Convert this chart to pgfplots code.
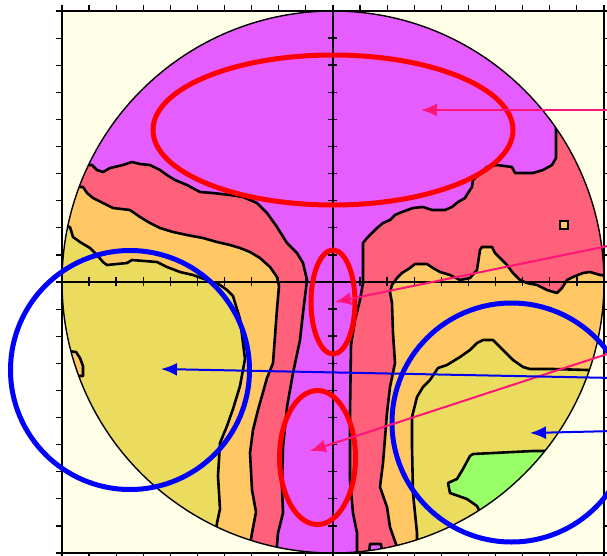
\documentclass[border=0pt]{standalone}
\usepackage{pgfplots}
\pgfplotsset{compat=1.18}
\usetikzlibrary{arrows.meta}
\definecolor{cream}{RGB}{255,255,232}
\definecolor{magC}{RGB}{229,92,255}
\definecolor{redC}{RGB}{255,96,122}
\definecolor{oraC}{RGB}{255,200,100}
\definecolor{khaC}{RGB}{235,220,96}
\definecolor{grnC}{RGB}{153,255,102}
\definecolor{arrP}{RGB}{255,20,120}
\definecolor{blueA}{RGB}{0,0,240}
\begin{document}
\begin{tikzpicture}
\pgfplotsset{geom/.style={at={(31pt,-5.5pt)}, anchor=north west, scale only axis, width=271pt, height=271pt},
  cont/.style={draw=black, line width=1.3pt, line join=round}}
% ---------- data axis (pixel coordinates) ----------
\begin{axis}[geom, xmin=62, xmax=604, ymin=11, ymax=553, y dir=reverse,
  axis background/.style={fill=cream}, axis on top,
  xtick={62,89.1,...,604.1}, ytick={11,38.1,...,553.1},
  xticklabels={}, yticklabels={}, tick align=outside, major tick length=3pt,
  tick style={black, line width=0.6pt}, axis line style={black, line width=0.9pt}]
\begin{scope}
\clip (axis cs:333,282) circle[radius=271];
% yellow base
\addplot[fill=khaC, draw=none] coordinates {(40,0) (620,0) (620,570) (40,570)} -- cycle;
% orange
\addplot[cont, fill=oraC] coordinates {(40,0) (40,227) (70,227) (73,237) (80,242) (90,248) (97,255) (103,262) (107,265) (127,263) (132,260) (157,262) (167,267) (180,272) (193,275) (207,280) (220,285) (227,290) (233,296) (240,319) (245,359) (240,386) (233,409) (227,426) (220,443) (218,476) (220,509) (217,523) (214,545) (214,570) (417,570) (417,545) (417,533) (413,493) (412,447) (412,417) (417,397) (423,387) (430,380) (438,368) (447,365) (460,357) (470,350) (477,343) (483,340) (493,340) (503,350) (513,360) (523,367) (530,369) (553,369) (587,370) (620,371) (620,0)} -- cycle;
% small orange sliver on the left edge
\addplot[cont, fill=oraC] coordinates {(60,350) (76,352) (80,358) (83,366) (83,376) (60,376)} -- cycle;
% red
\addplot[cont, fill=redC] coordinates {(40,0) (40,187) (83,187) (87,193) (93,198) (103,203) (113,208) (130,210) (140,217) (150,223) (160,228) (173,232) (187,235) (203,238) (217,242) (230,245) (240,248) (250,252) (260,258) (270,267) (277,277) (279,286) (277,309) (273,363) (267,378) (258,410) (253,430) (250,453) (252,490) (256,512) (252,533) (250,545) (250,570) (397,570) (397,547) (390,527) (387,507) (380,487) (383,463) (387,413) (390,387) (395,363) (393,333) (392,303) (390,292) (392,285) (397,278) (402,273) (410,268) (415,264) (427,264) (433,268) (440,272) (450,275) (460,280) (470,278) (477,270) (480,250) (482,247) (492,247) (495,253) (500,258) (507,265) (513,273) (520,280) (527,283) (537,285) (547,290) (557,293) (562,288) (567,280) (573,277) (583,273) (590,272) (600,275) (620,277) (620,0)} -- cycle;
% magenta
\addplot[cont, fill=magC] coordinates {(40,0) (40,165) (92,165) (97,170) (103,172) (110,168) (123,165) (132,162) (140,164) (150,165) (160,170) (167,175) (175,180) (187,185) (200,192) (213,193) (230,195) (243,197) (257,203) (267,213) (277,227) (287,243) (297,253) (303,263) (307,280) (303,313) (300,340) (293,373) (287,407) (283,447) (282,487) (283,513) (278,533) (277,545) (277,570) (357,570) (357,545) (357,533) (353,513) (350,480) (350,413) (351,345) (355,320) (360,300) (363,283) (363,243) (367,238) (372,233) (377,228) (383,223) (390,220) (395,215) (402,212) (413,208) (423,207) (432,210) (445,210) (452,207) (458,202) (465,198) (468,193) (472,187) (473,180) (478,175) (487,167) (497,165) (512,167) (515,173) (533,173) (543,170) (552,165) (556,158) (556,100) (556,0)} -- cycle;
% small magenta blob at the bottom
\addplot[cont, fill=magC] coordinates {(368,560) (370,544) (381,544) (383,560)} -- cycle;
% green
\addplot[cont, fill=grnC] coordinates {(470,456) (473,454) (533,451) (560,451) (560,520) (480,512) (477,506) (467,499) (450,493) (448,483) (457,479) (463,469)} -- cycle;
% tiny square
\addplot[draw=black, line width=1.2pt, fill=oraC] coordinates {(560,221) (568,221) (568,229) (560,229)} -- cycle;
\end{scope}
\draw[black, line width=0.7pt] (axis cs:333,282) circle[radius=271];
\end{axis}
% ---------- central cross ----------
\begin{axis}[geom, xmin=-1, xmax=1, ymin=-1, ymax=1, axis lines=middle,
  axis line style={-, black, line width=0.8pt},
  every inner x axis line/.append style={-}, every inner y axis line/.append style={-},
  xtick={-0.9,-0.8,...,0.95}, ytick={-0.9,-0.8,...,0.95},
  xticklabels={}, yticklabels={}, tick align=center, major tick length=4.5pt,
  tick style={black, line width=0.7pt}]
\end{axis}
% ---------- annotations (pixel coordinates) ----------
\begin{axis}[geom, xmin=62, xmax=604, ymin=11, ymax=553, y dir=reverse,
  axis lines=none, clip=false]
\draw[red, line width=2.5pt] (axis cs:333,130) ellipse[x radius=180, y radius=75];
\draw[red, line width=2.5pt] (axis cs:333,302) ellipse[x radius=22, y radius=52];
\draw[red, line width=2.5pt] (axis cs:317.5,457.5) ellipse[x radius=38, y radius=67];
\draw[blue, line width=2.5pt] (axis cs:130,370) circle[radius=119.5];
\draw[blue, line width=2.5pt] (axis cs:511.5,422.5) circle[radius=119.5];
\draw[arrP, line width=1pt, -{Latex[length=8pt,width=6.5pt]}] (axis cs:615,110) -- (axis cs:421,110);
\draw[arrP, line width=1pt, -{Latex[length=8pt,width=6.5pt]}] (axis cs:615,244.5) -- (axis cs:335,302);
\draw[arrP, line width=1pt, -{Latex[length=8pt,width=6.5pt]}] (axis cs:615,351.5) -- (axis cs:310,451);
\draw[blueA, line width=1pt, -{Latex[length=8pt,width=6.5pt]}] (axis cs:615,378) -- (axis cs:161,369);
\draw[blueA, line width=1pt, -{Latex[length=8pt,width=6.5pt]}] (axis cs:615,431) -- (axis cs:530,433);
\end{axis}
\pgfresetboundingbox
\path[use as bounding box] (0,0) rectangle (303.5pt,-278pt);
\end{tikzpicture}
\end{document}
